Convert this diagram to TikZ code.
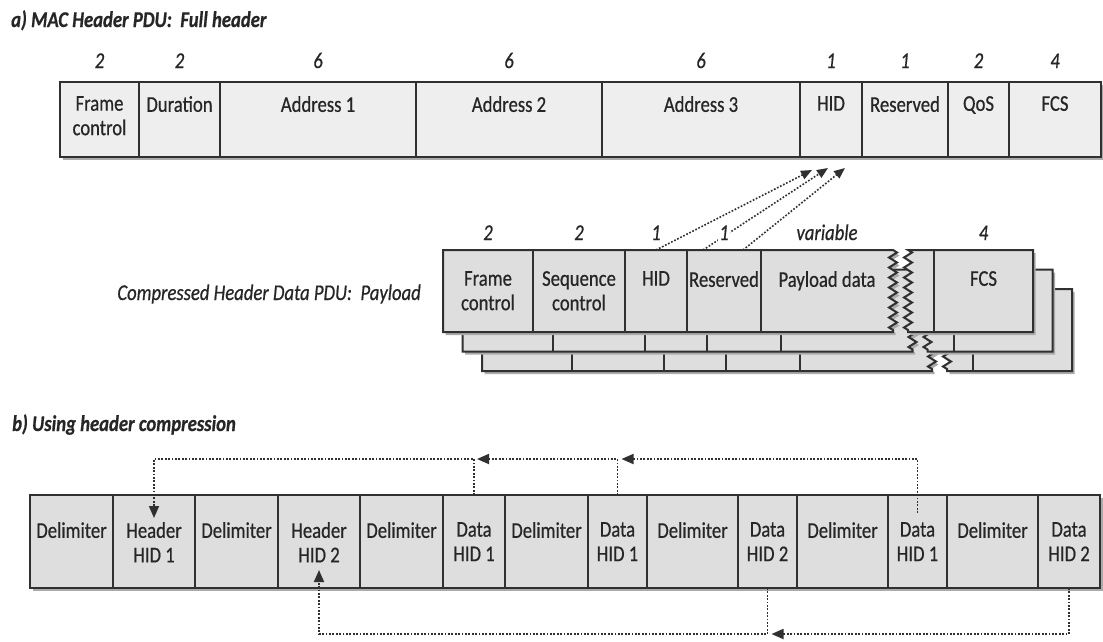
\documentclass[tikz,border=0pt]{standalone}
\usepackage{fontspec}
\setmainfont{Carlito}[FakeStretch=0.83, FakeBold=0.6]
\usetikzlibrary{arrows.meta,decorations.pathmorphing}
\definecolor{linec}{HTML}{303030}
\definecolor{fillA}{HTML}{EEEEEE}
\definecolor{fillB}{HTML}{DEDEDE}
\definecolor{txtc}{HTML}{262626}
\definecolor{shadc}{HTML}{ABABAB}
\tikzset{
  shad/.style={preaction={fill=shadc, transform canvas={shift={(2.5pt,-3pt)}}}},
  boxA/.style={draw=linec, fill=fillA, line width=2pt, shad, outer sep=0pt, inner sep=0pt},
  boxB/.style={boxA, fill=fillB},
  ghost/.style={inner sep=0pt, outer sep=0pt},
  lbl/.style={font=\fontsize{22.5}{24.5}\selectfont, text=txtc, align=center, inner sep=0pt, anchor=north},
  num/.style={font=\fontsize{22.5}{24}\selectfont\itshape, text=txtc, inner sep=1pt, fill=white, anchor=base},
  ttl/.style={font=\fontsize{22.5}{24}\selectfont\bfseries\itshape, text=txtc, inner sep=0pt, anchor=base west},
  layer/.style={draw=linec, fill=fillB, line width=2pt, shad},
  zz/.style={decoration={zigzag, segment length=10pt, amplitude=4pt}},
  dotA/.style={draw=linec, line width=1.6pt, dash pattern=on 1.7pt off 1.7pt, -{Triangle[length=11pt,width=9pt]}},
  dotB/.style={draw=linec, line width=1.8pt, dash pattern=on 1.8pt off 1.6pt, -{Triangle[length=12pt,width=10pt]}},
}
\newcommand\mkfield[6]{\node[#6, minimum width={(#3-#2)*1pt}, minimum height={(#5-#4)*1pt}] (#1) at ({(#2+#3)/2},{(#4+#5)/2}) {};}
\newcommand\mklayer[1]{%
  \begin{scope}[shift={(#1,#1)}]
    \path[layer] (443,250) -- (893,250) decorate[zz]{-- (893,332)} -- (443,332) -- cycle;
    \path[layer] (908,250) decorate[zz]{-- (908,332)} -- (1033,332) -- (1033,250) -- cycle;
    \draw[draw=linec, line width=2pt] (533,250) -- (533,332) (625,250) -- (625,332)
      (687,250) -- (687,332) (761,250) -- (761,332) (934,250) -- (934,332);
  \end{scope}}
\begin{document}
\begin{tikzpicture}[x=1pt,y=-1pt]
\useasboundingbox (0,0) rectangle (1103,641);
\fill[white] (0,0) rectangle (1103,641);

% titles
\node[ttl] (ta) at (11,27) {a) MAC Header PDU:\ \ Full header};
\node[ttl] (tb) at (12,431) {b) Using header compression};
\node[font=\fontsize{22.5}{24}\selectfont\itshape, text=txtc, inner sep=0pt, anchor=base east] (cl) at (421,300) {Compressed Header Data PDU:\ \ Payload};

% top row
\foreach \n/\a/\b/\t/\s in {fc/60/139/{Frame\\control}/2, dur/139/220/Duration/2, a1/220/416/Address 1/6, a2/416/602/Address 2/6, a3/602/800/Address 3/6, hid/800/862/HID/1, res/862/948/Reserved/1, qos/948/1009/QoS/2, fcs/1009/1101/FCS/4}{
  \mkfield{\n}{\a}{\b}{82}{157}{boxA}
  \node[lbl] (\n-t) at ([yshift=-14pt]\n.north) {\t};
  \node[num] (\n-n) at ([yshift=14pt]\n.north) {\s};
}

% compressed header layers
\mklayer{39}
\mklayer{19.5}
\mklayer{0}
\foreach \n/\a/\b/\t in {cfc/443/533/{Frame\\control}, csc/533/625/{Sequence\\control}, chid/625/687/HID, cres/687/761/Reserved, cpay/761/893/Payload data, cfcs/934/1033/FCS}{
  \mkfield{\n}{\a}{\b}{250}{332}{ghost}
  \node[lbl] (\n-t) at ([yshift=-21pt]\n.north) {\t};
}

% arrows to HID
\coordinate (t1) at ([xshift=-19pt,yshift=-13pt]hid.south);
\coordinate (t2) at ([xshift=-3pt,yshift=-11pt]hid.south);
\coordinate (t3) at ([xshift=14pt,yshift=-11pt]hid.south);
\draw[dotA] (chid.north) -- (t1);
\draw[dotA] ([xshift=16pt]cres.north west) -- (t2);
\draw[dotA] ([xshift=-18pt]cres.north east) -- (t3);

\foreach \n/\s in {cfc/2, csc/2, chid/1, cres/1, cpay/variable, cfcs/4}{
  \node[num] (\n-n) at ([yshift=10pt]\n.north) {\s};
}

% bottom row
\foreach \n/\a/\b/\t in {d1/30/113/Delimiter, hh1/113/195/{Header\\HID 1}, d2/195/278/Delimiter, hh2/278/360/{Header\\HID 2}, d3/360/443/Delimiter, dh1a/443/505/{Data\\HID 1}, d4/505/588/Delimiter, dh1b/588/647/{Data\\HID 1}, d5/647/738/Delimiter, dh2a/738/797/{Data\\HID 2}, d6/797/888/Delimiter, dh1c/888/947/{Data\\HID 1}, d7/947/1038/Delimiter, dh2b/1038/1100/{Data\\HID 2}}{
  \mkfield{\n}{\a}{\b}{495}{588}{boxB}
  \node[lbl] (\n-t) at ([yshift=-27pt]\n.north) {\t};
}

% reference arrows
\draw[dotB] (dh1a.north) -- ++(0,-36) -| ([yshift=-23pt]hh1.north);
\draw[dotB] (dh1b.north) |- ([xshift=3pt,yshift=36pt]dh1a.north);
\draw[dotB] ([yshift=-18pt]dh1c.north) |- ([xshift=4pt,yshift=36pt]dh1b.north);
\draw[dotB] (dh2a.south) -- ++(0,46) -| ([yshift=18pt]hh2.south);
\draw[dotB] (dh2b.south) |- ([xshift=4pt,yshift=-46pt]dh2a.south);
\end{tikzpicture}
\end{document}
